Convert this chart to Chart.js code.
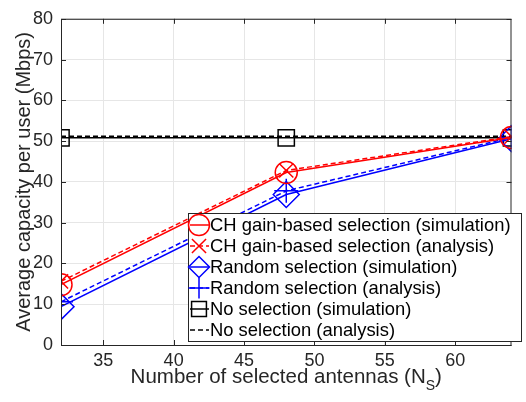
<!DOCTYPE html>
<html>
<head>
<meta charset="utf-8">
<script src="https://cdn.jsdelivr.net/npm/chart.js@4.4.0/dist/chart.umd.min.js"></script>
<style>
  html, body { margin: 0; padding: 0; background: #fff; }
  #wrap { width: 526px; height: 402px; }
</style>
</head>
<body>
<div id="wrap"><canvas id="grafico" width="526" height="402"></canvas></div>
<script>
// dados
const antenas = [32, 48, 64];
const chSimulacao = [14.8, 42.3, 50.9];
const chAnalise = [15.6, 42.8, 51.1];
const aleatSimulacao = [9.4, 36.9, 50.6];
const aleatAnalise = [10.6, 37.8, 50.9];
const semSelSimulacao = [50.8, 50.8, 50.8];
const semSelAnalise = [51.2, 51.2, 51.2];
const xTicks = [35, 40, 45, 50, 55, 60];
const yTicks = [0, 10, 20, 30, 40, 50, 60, 70, 80];

const FONTE = 'Arial, "Liberation Sans", sans-serif';

function pontos(ys) {
  return antenas.map((x, i) => ({ x: x, y: ys[i] }));
}

function serie(label, ys, cor, tracejado, estilo, raio) {
  return {
    label: label,
    data: pontos(ys),
    borderColor: cor,
    backgroundColor: 'rgba(0,0,0,0)',
    borderWidth: 1.5,
    borderDash: tracejado ? [5, 3] : [],
    pointStyle: estilo || false,
    pointRadius: estilo ? raio : 0,
    pointBorderColor: cor,
    pointBackgroundColor: 'rgba(0,0,0,0)',
    pointBorderWidth: 1.5,
    tension: 0
  };
}

const datasets = [
  serie('CH gain-based selection (simulation)', chSimulacao, '#ff0000', false, 'circle', 11),
  serie('CH gain-based selection (analysis)', chAnalise, '#ff0000', true, 'crossRot', 10),
  serie('Random selection (simulation)', aleatSimulacao, '#0000ff', false, 'rectRot', 13),
  serie('Random selection (analysis)', aleatAnalise, '#0000ff', true, 'cross', 12),
  serie('No selection (simulation)', semSelSimulacao, '#000000', false, 'rect', 11.5),
  serie('No selection (analysis)', semSelAnalise, '#000000', true, null, 0)
];

// caixa, marcas dos eixos, legenda e título do eixo x
const extras = {
  id: 'extras',
  afterDraw(chart) {
    const ctx = chart.ctx;
    const a = chart.chartArea;
    const sx = chart.scales.x, sy = chart.scales.y;
    ctx.save();
    // marcas para dentro
    ctx.strokeStyle = '#262626';
    ctx.lineWidth = 1;
    ctx.beginPath();
    xTicks.forEach(v => {
      const px = Math.round(sx.getPixelForValue(v)) + 0.5;
      ctx.moveTo(px, a.bottom); ctx.lineTo(px, a.bottom - 5);
      ctx.moveTo(px, a.top); ctx.lineTo(px, a.top + 5);
    });
    yTicks.forEach(v => {
      const py = Math.round(sy.getPixelForValue(v)) + 0.5;
      ctx.moveTo(a.left, py); ctx.lineTo(a.left + 5, py);
      ctx.moveTo(a.right, py); ctx.lineTo(a.right - 5, py);
    });
    ctx.stroke();
    // caixa
    ctx.strokeStyle = '#262626';
    ctx.strokeRect(a.left + 0.5, a.top + 0.5, a.right - a.left - 1, a.bottom - a.top);

    // legenda
    const lx = 188, ly = 213, lw = 333, lh = 128, passo = 21;
    ctx.fillStyle = '#ffffff';
    ctx.fillRect(lx, ly, lw, lh);
    ctx.strokeStyle = '#262626';
    ctx.lineWidth = 1;
    ctx.strokeRect(lx + 0.5, ly + 0.5, lw, lh);
    ctx.font = '18.4px ' + FONTE;
    ctx.textBaseline = 'middle';
    chart.data.datasets.forEach((ds, i) => {
      const cy = ly + 12 + i * passo;
      ctx.strokeStyle = ds.borderColor;
      ctx.lineWidth = 1.5;
      ctx.setLineDash(ds.borderDash);
      ctx.beginPath();
      ctx.moveTo(lx + 2, cy); ctx.lineTo(lx + 21, cy);
      ctx.stroke();
      ctx.setLineDash([]);
      if (ds.pointStyle) {
        ctx.fillStyle = 'rgba(0,0,0,0)';
        Chart.helpers.drawPoint(ctx, {
          pointStyle: ds.pointStyle,
          radius: Math.min(ds.pointRadius, 10.5),
          rotation: 0,
          borderWidth: 1.5
        }, lx + 11, cy);
      }
      ctx.fillStyle = '#000000';
      ctx.fillText(ds.label, lx + 22, cy + 1);
    });

    // título do eixo x com índice
    const base = 'Number of selected antennas (N';
    ctx.font = '20.5px ' + FONTE;
    ctx.fillStyle = '#262626';
    ctx.textBaseline = 'middle';
    const w1 = ctx.measureText(base).width;
    ctx.font = '14px ' + FONTE;
    const w2 = ctx.measureText('S').width;
    ctx.font = '20.5px ' + FONTE;
    const w3 = ctx.measureText(')').width;
    const cx = (a.left + a.right) / 2;
    let x0 = cx - (w1 + w2 + w3) / 2;
    const ty = 377;
    ctx.fillText(base, x0, ty);
    ctx.font = '14px ' + FONTE;
    ctx.fillText('S', x0 + w1, ty + 9);
    ctx.font = '20.5px ' + FONTE;
    ctx.fillText(')', x0 + w1 + w2, ty);
    ctx.restore();
  }
};

const ctx = document.getElementById('grafico').getContext('2d');
const grafico = new Chart(ctx, {
  type: 'line',
  data: { datasets: datasets },
  options: {
    responsive: false,
    animation: false,
    devicePixelRatio: 1,
    layout: { padding: { top: 14, right: 4, left: 0, bottom: 0 } },
    plugins: { legend: { display: false }, tooltip: { enabled: false } },
    scales: {
      x: {
        type: 'linear',
        min: 32, max: 64,
        afterBuildTicks: s => { s.ticks = xTicks.map(v => ({ value: v })); },
        afterFit: s => { s.height = 57; },
        grid: { color: '#e6e6e6', drawTicks: false },
        border: { display: false },
        ticks: { color: '#262626', font: { size: 18, family: FONTE }, padding: 5, maxRotation: 0 }
      },
      y: {
        type: 'linear',
        min: 0, max: 80,
        afterBuildTicks: s => { s.ticks = yTicks.map(v => ({ value: v })); },
        afterFit: s => { s.width = 61; },
        grid: { color: '#e6e6e6', drawTicks: false },
        border: { display: false },
        title: { display: true, text: 'Average capacity per user (Mbps)', color: '#262626', font: { size: 20, family: FONTE }, padding: { top: 12, bottom: 0 } },
        ticks: { color: '#262626', font: { size: 18, family: FONTE }, padding: 8 }
      }
    }
  },
  plugins: [extras]
});
</script>
</body>
</html>
